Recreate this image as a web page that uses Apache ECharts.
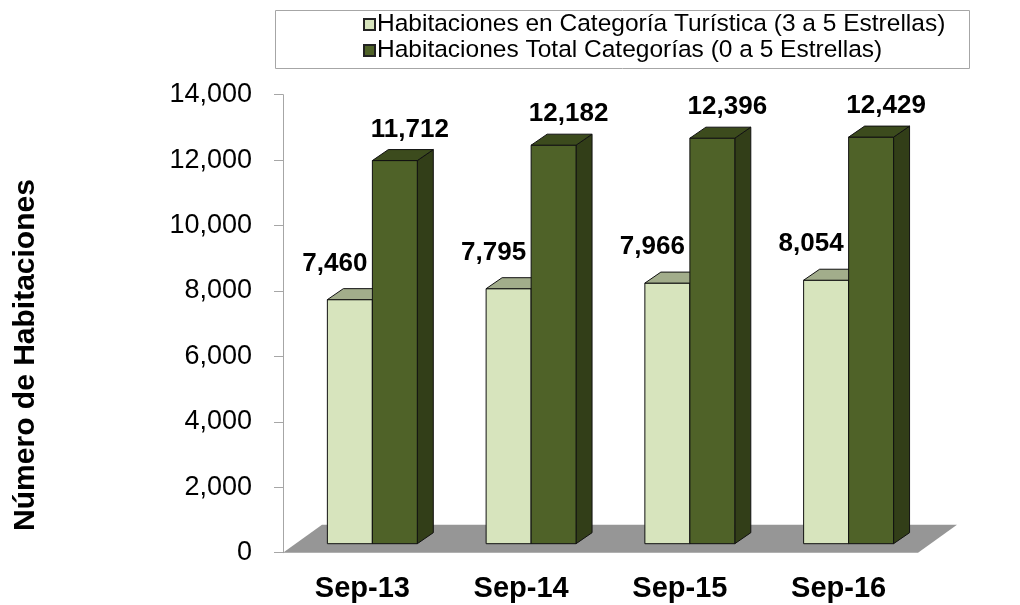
<!DOCTYPE html>
<html lang="es">
<head>
<meta charset="UTF-8">
<title>Número de Habitaciones</title>
<script src="https://cdn.jsdelivr.net/npm/echarts@6/dist/echarts.min.js"></script>
<style>html,body{margin:0;padding:0;background:#fff}</style>
</head>
<body>
<div id="main" style="width:1020px;height:605px;"></div>
<script>
// datos
const categories = ['Sep-13', 'Sep-14', 'Sep-15', 'Sep-16'];
const turisticas = [7460, 7795, 7966, 8054];
const totales = [11712, 12182, 12396, 12429];
const seriesNames = [
  'Habitaciones en Categoría Turística (3 a 5 Estrellas)',
  'Habitaciones Total Categorías (0 a 5 Estrellas)'
];
const yMax = 14000;
const yStep = 2000;

const FONT = '"Liberation Sans", Arial, sans-serif';
const lightFaces = { front: '#d7e4bd', top: '#a2ad8b', side: '#98a47f' };
const darkFaces = { front: '#4f6228', top: '#3c4b1d', side: '#323e18' };

// floor under the bars
function renderFloor(params, api) {
  const cs = params.coordSys;
  const bx = cs.x, by = cs.y + cs.height;
  const dx = 39, dy = -28;
  return {
    type: 'polygon',
    shape: { points: [[bx, by], [cs.x + cs.width, by], [cs.x + cs.width + dx, by + dy], [bx + dx, by + dy]] },
    style: { fill: '#969696' }
  };
}

function barRenderer(faces, shiftFrac, labelDx, labelDy) {
  return function (params, api) {
    const idx = api.value(0), val = api.value(1);
    const top = api.coord([idx, val]);
    const base = api.coord([idx, 0]);
    const band = api.size([1, 0])[0];
    const w = band * 0.283;
    const x0 = top[0] + band * shiftFrac;
    const y0 = top[1] - 9, y1 = base[1] - 9;
    const dx = 16, dy = -11;
    const stroke = { stroke: '#111', lineWidth: 1 };
    return {
      type: 'group',
      children: [
        { type: 'polygon', shape: { points: [[x0 + w, y0], [x0 + w + dx, y0 + dy], [x0 + w + dx, y1 + dy], [x0 + w, y1]] },
          style: Object.assign({ fill: faces.side }, stroke) },
        { type: 'rect', shape: { x: x0, y: y0, width: w, height: y1 - y0 },
          style: Object.assign({ fill: faces.front }, stroke) },
        { type: 'polygon', shape: { points: [[x0, y0], [x0 + dx, y0 + dy], [x0 + w + dx, y0 + dy], [x0 + w, y0]] },
          style: Object.assign({ fill: faces.top }, stroke) },
        { type: 'text', style: {
            text: val.toLocaleString('en-US'), x: x0 + w / 2 + labelDx, y: y0 - labelDy,
            align: 'center', verticalAlign: 'middle',
            font: 'bold 26px ' + FONT, fill: '#000' } }
      ]
    };
  };
}

const myChart = echarts.init(document.getElementById('main'));
const option = {
  animation: false,
  backgroundColor: '#fff',
  grid: { left: 283, right: 102, top: 94.7, bottom: 52.3 },
  legend: {
    data: seriesNames,
    orient: 'vertical',
    left: 363, top: 12, padding: 0,
    itemWidth: 11, itemHeight: 11, itemGap: 1,
    icon: 'rect',
    textStyle: { fontFamily: FONT, fontSize: 24.5, color: '#000', padding: [0, 0, 0, -3] }
  },
  graphic: [
    { type: 'rect', shape: { x: 275.5, y: 10.5, width: 694, height: 58 },
      style: { fill: 'none', stroke: '#a6a6a6', lineWidth: 1 }, z: -1 },
    { type: 'text', x: 26, y: 355, rotation: Math.PI / 2,
      style: { text: 'Número de Habitaciones', font: 'bold 30px ' + FONT, fill: '#000',
               align: 'center', verticalAlign: 'middle' } }
  ],
  xAxis: {
    type: 'category',
    data: categories,
    axisLine: { show: false },
    axisTick: { show: false },
    axisLabel: { margin: 22, fontFamily: FONT, fontSize: 29, fontWeight: 'bold', color: '#000' }
  },
  yAxis: {
    type: 'value',
    min: 0, max: yMax, interval: yStep,
    splitLine: { show: false },
    axisLine: { show: true, lineStyle: { color: '#a6a6a6', width: 1 } },
    axisTick: { show: true, length: 9, lineStyle: { color: '#a6a6a6' } },
    axisLabel: { margin: 31, fontFamily: FONT, fontSize: 27, color: '#000',
                 formatter: v => v.toLocaleString('en-US') }
  },
  series: [
    { type: 'custom', name: 'floor', renderItem: renderFloor, data: [[0, 0]], z: 1, silent: true },
    { type: 'custom', name: seriesNames[0], renderItem: barRenderer(lightFaces, -0.2205, -15, 36),
      data: turisticas.map((v, i) => [i, v]), encode: { x: 0, y: 1 }, z: 2,
      itemStyle: { color: lightFaces.front, borderColor: '#222', borderWidth: 1 } },
    { type: 'custom', name: seriesNames[1], renderItem: barRenderer(darkFaces, 0.063, 15, 31),
      data: totales.map((v, i) => [i, v]), encode: { x: 0, y: 1 }, z: 3,
      itemStyle: { color: darkFaces.front, borderColor: '#222', borderWidth: 1 } }
  ]
};
option && myChart.setOption(option);
</script>
</body>
</html>
